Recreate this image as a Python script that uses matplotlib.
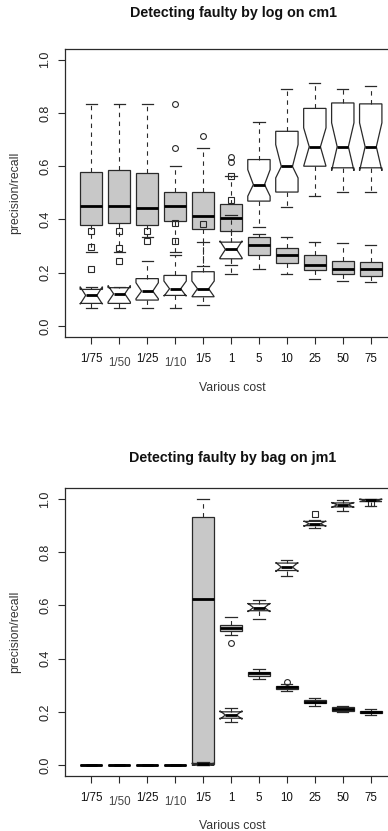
import matplotlib
matplotlib.use("Agg")
import matplotlib.pyplot as plt

plt.rcParams['font.family'] = ['Liberation Sans', 'DejaVu Sans']

costs = ["1/75", "1/50", "1/25", "1/10", "1/5", "1", "5", "10", "25", "50", "75"]
low_labels = ["1/50", "1/10"]

# ---- Top: log on cm1 ----
# grey (plain) boxes
log_g_whislo = [0.278, 0.278, 0.334, 0.278, 0.225, 0.231, 0.215, 0.194, 0.175, 0.169, 0.165]
log_g_q1     = [0.381, 0.388, 0.381, 0.394, 0.3625, 0.356, 0.266, 0.238, 0.210, 0.196, 0.1875]
log_g_med    = [0.452, 0.452, 0.444, 0.450, 0.4125, 0.4065, 0.304, 0.265, 0.2275, 0.216, 0.2125]
log_g_q3     = [0.578, 0.586, 0.575, 0.503, 0.503, 0.460, 0.335, 0.294, 0.268, 0.244, 0.241]
log_g_whishi = [0.834, 0.834, 0.834, 0.600, 0.669, 0.5625, 0.344, 0.335, 0.3165, 0.3125, 0.306]
log_g_fliers = [[], [], [], [0.834, 0.668], [0.715], [0.634, 0.615], [], [], [], [], []]
# white (notched) boxes
log_w_whislo = [0.069, 0.069, 0.069, 0.069, 0.078, 0.194, 0.371, 0.448, 0.4875, 0.503, 0.503]
log_w_q1     = [0.085, 0.085, 0.0975, 0.115, 0.110, 0.2525, 0.469, 0.503, 0.600, 0.594, 0.594]
log_w_med    = [0.115, 0.121, 0.131, 0.140, 0.140, 0.2875, 0.531, 0.599, 0.673, 0.673, 0.673]
log_w_q3     = [0.1375, 0.144, 0.178, 0.190, 0.204, 0.315, 0.625, 0.731, 0.817, 0.8375, 0.834]
log_w_whishi = [0.145, 0.145, 0.245, 0.268, 0.315, 0.415, 0.765, 0.890, 0.913, 0.890, 0.9025]
log_w_cilo   = [0.082, 0.090, 0.1025, 0.112, 0.110, 0.255, 0.4875, 0.556, 0.600, 0.583, 0.583]
log_w_cihi   = [0.148, 0.152, 0.1625, 0.169, 0.169, 0.320, 0.587, 0.681, 0.744, 0.763, 0.763]
log_w_fliers = [[0.355, 0.296, 0.213], [0.355, 0.293, 0.245], [0.355, 0.318], [0.385, 0.318],
                [0.384], [0.5625, 0.4725], [], [], [], [], []]

# ---- Bottom: bag on jm1 ----
bag_g_whislo = [0.0, 0.0, 0.0, 0.0, 0.0, 0.487, 0.3225, 0.2785, 0.222, 0.198, 0.188]
bag_g_q1     = [0.0, 0.0, 0.0, 0.0, 0.003, 0.505, 0.336, 0.287, 0.232, 0.204, 0.196]
bag_g_med    = [0.0, 0.0, 0.0, 0.0, 0.624, 0.514, 0.345, 0.2925, 0.238, 0.2108, 0.1995]
bag_g_q3     = [0.0, 0.0, 0.0, 0.0, 0.932, 0.527, 0.351, 0.298, 0.2446, 0.2166, 0.204]
bag_g_whishi = [0.0, 0.0, 0.0, 0.0, 1.0, 0.558, 0.361, 0.304, 0.2534, 0.223, 0.2108]
bag_g_fliers = [[], [], [], [], [], [0.458], [], [0.3135], [], [], []]

bag_w_whislo = [0.0, 0.0, 0.0, 0.0, 0.0, 0.163, 0.548, 0.711, 0.891, 0.953, 0.975]
bag_w_q1     = [0.0, 0.0, 0.0, 0.0, 0.0, 0.176, 0.580, 0.731, 0.8996, 0.970, 0.990]
bag_w_med    = [0.0, 0.0, 0.0, 0.0, 0.003, 0.188, 0.592, 0.744, 0.907, 0.978, 0.995]
bag_w_q3     = [0.0, 0.0, 0.0, 0.0, 0.006, 0.200, 0.606, 0.759, 0.9157, 0.985, 0.998]
bag_w_whishi = [0.0, 0.0, 0.0, 0.0, 0.0125, 0.216, 0.621, 0.7715, 0.922, 0.997, 1.0]
bag_w_cilo   = [0.0, 0.0, 0.0, 0.0, 0.0, 0.172, 0.576, 0.727, 0.897, 0.968, 0.990]
bag_w_cihi   = [0.0, 0.0, 0.0, 0.0, 0.007, 0.204, 0.608, 0.761, 0.917, 0.987, 1.0]
bag_w_fliers = [[], [], [], [], [], [], [], [], [0.9447], [], [0.983]]

yticks = [0.0, 0.2, 0.4, 0.6, 0.8, 1.0]
ytick_labels = ["0.0", "0.2", "0.4", "0.6", "0.8", "1.0"]


def make_stats(wlo, q1, med, q3, whi, fl, cilo=None, cihi=None):
    out = []
    for i in range(len(med)):
        d = dict(whislo=wlo[i], q1=q1[i], med=med[i], q3=q3[i], whishi=whi[i], fliers=fl[i])
        if cilo is not None:
            d['cilo'] = cilo[i]
            d['cihi'] = cihi[i]
        out.append(d)
    return out


W = 388.0
H = 831.0
fig = plt.figure(figsize=(W / 100, H / 100), dpi=100)

edge = '#2a2a2a'
dash = (0, (4, 4))


def draw_panel(ax, grey, white, title, title_y):
    pos = list(range(1, len(costs) + 1))
    ax.bxp(grey, positions=pos, widths=0.8, capwidths=0.4, patch_artist=True,
           shownotches=False,
           boxprops=dict(facecolor='#c8c8c8', edgecolor=edge, linewidth=0.9),
           whiskerprops=dict(color=edge, linewidth=0.8, linestyle=dash),
           capprops=dict(color=edge, linewidth=0.9),
           medianprops=dict(color='black', linewidth=2.0, solid_capstyle='butt'),
           flierprops=dict(marker='o', markerfacecolor='none', markeredgecolor=edge,
                           markersize=4.2, markeredgewidth=0.8))
    ax.bxp(white, positions=pos, widths=0.8, capwidths=0.4, patch_artist=True,
           shownotches=True,
           boxprops=dict(facecolor='white', edgecolor=edge, linewidth=0.9),
           whiskerprops=dict(color=edge, linewidth=0.8, linestyle=dash),
           capprops=dict(color=edge, linewidth=0.9),
           medianprops=dict(color='black', linewidth=2.0, solid_capstyle='butt'),
           flierprops=dict(marker='s', markerfacecolor='none', markeredgecolor=edge,
                           markersize=4.0, markeredgewidth=0.8))
    ax.set_xlim(0.06, 11.94)
    ax.set_ylim(-0.04, 1.04)
    ax.set_xticks(pos)
    ax.set_xticklabels([])
    ax.set_yticks(yticks)
    ax.set_yticklabels(ytick_labels, rotation=90, va='center', fontsize=9, color='#222')
    ax.tick_params(axis='both', length=5, width=0.8, color=edge, pad=5)
    for s in ax.spines.values():
        s.set_linewidth(0.9)
        s.set_color(edge)
    for p, lab in zip(pos, costs):
        off = -19 if lab in low_labels else -16
        ax.annotate(lab, xy=(p, 0), xycoords=('data', 'axes fraction'),
                    xytext=(0, off), textcoords='offset points',
                    ha='center', va='center', fontsize=8.3,
                    color='#444' if lab in low_labels else '#111')
    fig.text(233 / W, 1 - title_y / H, title, ha='center', va='center',
             fontsize=10.3, fontweight='bold', color='#111')


# top axes
ax1 = fig.add_axes([65 / W, 1 - 336.7 / H, (397 - 65) / W, (336.7 - 49) / H])
draw_panel(ax1,
           make_stats(log_g_whislo, log_g_q1, log_g_med, log_g_q3, log_g_whishi, log_g_fliers),
           make_stats(log_w_whislo, log_w_q1, log_w_med, log_w_q3, log_w_whishi, log_w_fliers,
                      log_w_cilo, log_w_cihi),
           "Detecting faulty by log on cm1", 13)
fig.text(232 / W, 1 - 388 / H, "Various cost", ha='center', va='center', fontsize=8.8, color='#333')
fig.text(15 / W, 1 - 193 / H, "precision/recall", ha='center', va='center', rotation=90,
         fontsize=8.8, color='#333')

# bottom axes
ax2 = fig.add_axes([65 / W, 1 - 775.7 / H, (397 - 65) / W, (775.7 - 488.3) / H])
draw_panel(ax2,
           make_stats(bag_g_whislo, bag_g_q1, bag_g_med, bag_g_q3, bag_g_whishi, bag_g_fliers),
           make_stats(bag_w_whislo, bag_w_q1, bag_w_med, bag_w_q3, bag_w_whishi, bag_w_fliers,
                      bag_w_cilo, bag_w_cihi),
           "Detecting faulty by bag on jm1", 458)
fig.text(232 / W, 1 - 826 / H, "Various cost", ha='center', va='center', fontsize=8.8, color='#333')
fig.text(15 / W, 1 - 632 / H, "precision/recall", ha='center', va='center', rotation=90,
         fontsize=8.8, color='#333')

fig.savefig("out.png", dpi=100)
